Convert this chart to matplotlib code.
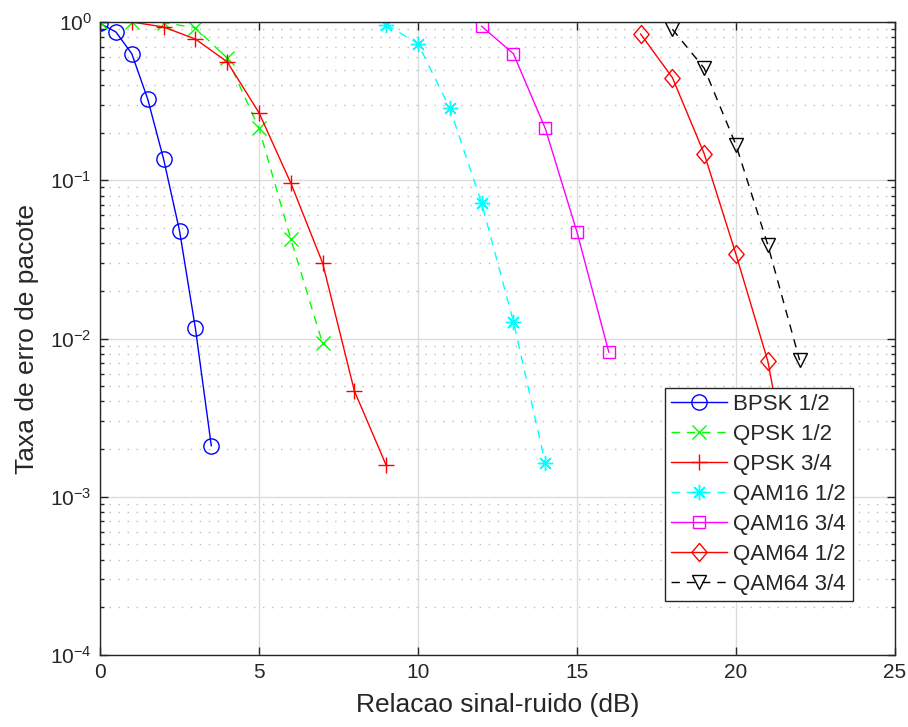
import matplotlib
matplotlib.use("Agg")
import matplotlib.pyplot as plt
from matplotlib.ticker import LogLocator, NullFormatter
from matplotlib.path import Path

plt.rcParams['font.family'] = ['Liberation Sans', 'DejaVu Sans']
plt.rcParams['mathtext.default'] = 'regular'

labels = ["BPSK 1/2", "QPSK 1/2", "QPSK 3/4", "QAM16 1/2", "QAM16 3/4", "QAM64 1/2", "QAM64 3/4"]

snr_bpsk12 = [0, 0.5, 1.0, 1.5, 2.0, 2.5, 3.0, 3.5]
per_bpsk12 = [0.98, 0.865, 0.63, 0.326, 0.136, 0.048, 0.0116, 0.0021]

snr_qpsk12 = [0, 1, 2, 3, 4, 5, 6, 7]
per_qpsk12 = [1.0, 1.0, 0.99, 0.92, 0.59, 0.213, 0.0425, 0.0093]

snr_qpsk34 = [0, 1, 2, 3, 4, 5, 6, 7, 8, 9]
per_qpsk34 = [1.0, 1.0, 0.93, 0.78, 0.56, 0.267, 0.096, 0.030, 0.00466, 0.00158]

snr_qam1612 = [9, 10, 11, 12, 13, 14]
per_qam1612 = [0.96, 0.73, 0.285, 0.072, 0.0128, 0.00163]

snr_qam1634 = [12, 13, 14, 15, 16]
per_qam1634 = [0.94, 0.63, 0.213, 0.047, 0.0082]

snr_qam6412 = [17, 18, 19, 20, 21, 22]
per_qam6412 = [0.84, 0.445, 0.147, 0.034, 0.0072, 0.0006]

snr_qam6434 = [18, 19, 20, 21, 22]
per_qam6434 = [0.90, 0.51, 0.167, 0.039, 0.0073]

diamond = Path([(0, 1), (0.85, 0), (0, -1), (-0.85, 0), (0, 1)],
               [Path.MOVETO, Path.LINETO, Path.LINETO, Path.LINETO, Path.CLOSEPOLY])
asterisk = (8, 2, 0)

series = [
    (snr_bpsk12, per_bpsk12, '#0000ff', '-', 'o', 11),
    (snr_qpsk12, per_qpsk12, '#00ff00', '--', 'x', 9.5),
    (snr_qpsk34, per_qpsk34, '#ff0000', '-', '+', 11.5),
    (snr_qam1612, per_qam1612, '#00ffff', '--', asterisk, 11),
    (snr_qam1634, per_qam1634, '#ff00ff', '-', 's', 9),
    (snr_qam6412, per_qam6412, '#ff0000', '-', diamond, 13),
    (snr_qam6434, per_qam6434, '#000000', '--', 'v', 10),
]

fig = plt.figure(figsize=(9.08, 7.27), dpi=100)
ax = fig.add_axes([100/908, 1-655/727, 795/908, 633/727])

for (x, y, c, ls, m, s), lab in zip(series, labels):
    linestyle = (0, (6, 5)) if ls == '--' else '-'
    ax.plot(x, y, color=c, linestyle=linestyle, marker=m, markersize=s,
            markerfacecolor='none', markeredgecolor=c, markeredgewidth=1.0,
            linewidth=1.0, label=lab)

ax.set_yscale('log')
ax.set_xlim(0, 25)
ax.set_ylim(1e-4, 1)
ax.set_xticks([0, 5, 10, 15, 20, 25])
ax.yaxis.set_major_locator(LogLocator(base=10, numticks=10))
ax.yaxis.set_minor_locator(LogLocator(base=10, subs=range(2, 10), numticks=20))
ax.yaxis.set_minor_formatter(NullFormatter())

ax.grid(True, which='major', color='#dcdcdc', linewidth=1.0)
ax.grid(True, which='minor', axis='y', color='#bdbdbd', linestyle=(0, (1, 5.5)), linewidth=1.0)
ax.set_axisbelow(True)

textc = '#262626'
ax.tick_params(which='both', direction='in', top=True, right=True, colors=textc,
               labelsize=15, labelcolor=textc)
ax.tick_params(which='major', length=6, width=1, pad=6)
ax.tick_params(which='minor', length=3, width=1)
for sp in ax.spines.values():
    sp.set_color(textc)
    sp.set_linewidth(1.0)

ax.set_xlabel('Relacao sinal-ruido (dB)', fontsize=19, color=textc, labelpad=8)
ax.set_ylabel('Taxa de erro de pacote', fontsize=19, color=textc, labelpad=8)

leg = ax.legend(loc='lower right', bbox_to_anchor=(0.947, 0.085), borderaxespad=0,
                fontsize=16, frameon=True, fancybox=False, framealpha=1,
                edgecolor=textc, handlelength=2.5, handletextpad=0.3,
                labelspacing=0.4, borderpad=0.3)
leg.get_frame().set_linewidth(1.0)
for t in leg.get_texts():
    t.set_color(textc)

fig.savefig('out.png', dpi=100)
